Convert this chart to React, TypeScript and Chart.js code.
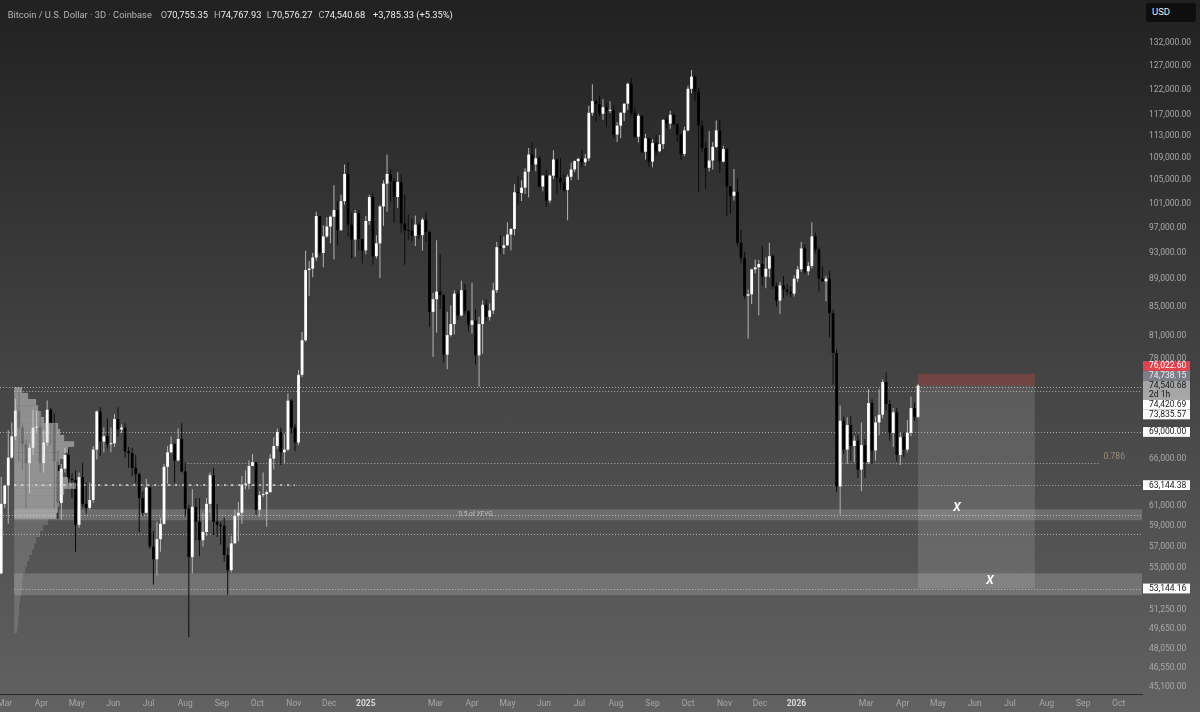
import React, { useEffect, useRef } from 'react';
import { Chart, registerables } from 'chart.js';

Chart.register(...registerables);

const FONT = 'Roboto, "Liberation Sans", Arial, sans-serif';

// ---- 3-day candles, Coinbase BTC/USD, prices in thousands of USD ----
const FIRST_BAR_DATE = '2024-02-27';
const BAR_DAYS = 3;

const openK = [
  54.5,61.2,63.1,66.1,68.5,71.5,69.5,67.6,65.5,67.2,
  69.5,69.6,65.5,67.8,71.6,70.0,65.7,61.3,64.9,66.4,
  63.8,63.7,59.1,64.0,61.2,60.8,61.6,67.0,71.4,67.9,
  68.5,67.6,67.7,70.5,69.3,69.5,66.8,66.6,65.0,64.3,
  61.8,60.3,62.9,57.0,55.8,57.7,59.2,65.1,66.7,67.6,
  65.8,68.2,64.6,60.7,56.0,60.9,59.4,57.6,58.4,61.2,
  64.2,59.4,59.1,59.0,56.2,54.8,57.3,60.0,60.3,63.2,
  63.3,65.2,65.6,60.6,62.1,62.2,62.4,66.0,67.4,69.0,
  66.7,67.0,72.7,69.5,67.8,75.9,80.4,90.4,90.6,92.3,
  98.9,93.0,95.6,97.2,98.8,99.9,96.6,101.4,106.1,97.5,
  95.1,99.4,95.2,93.4,98.1,102.1,92.5,94.5,100.5,104.4,
  106.1,104.8,102.1,104.7,97.7,96.6,96.5,95.7,97.5,95.8,
  98.3,96.3,84.3,86.1,87.2,86.7,78.5,81.1,82.6,86.9,
  83.8,87.4,84.4,82.5,83.1,78.4,82.6,85.3,83.6,84.5,
  87.4,93.9,93.8,94.2,95.9,96.8,102.9,102.8,103.7,106.5,
  109.6,107.8,108.9,103.9,105.8,101.5,105.8,108.7,105.4,104.6,
  103.3,105.6,106.9,108.4,108.8,108.2,108.9,117.5,119.8,119.2,
  117.3,118.6,117.9,118.0,113.3,115.0,117.5,119.3,123.3,117.5,
  112.9,116.9,110.1,112.6,108.3,111.7,110.2,111.5,116.1,115.4,
  117.1,115.3,113.3,109.7,114.1,122.3,124.8,121.7,115.0,110.8,
  107.2,108.5,111.0,114.1,108.3,110.6,103.9,102.3,103.0,94.6,
  92.2,86.6,86.8,90.5,90.8,91.3,89.4,90.6,92.5,88.0,
  85.9,88.1,87.5,87.2,86.9,89.1,90.5,93.7,90.2,91.0,
  95.6,93.5,89.1,88.7,89.1,84.1,78.7,63.0,70.3,67.0,
  69.8,67.4,68.0,64.8,67.5,65.6,72.4,66.9,70.1,71.0,
  75.0,72.3,68.9,71.3,66.4,68.4,67.0,68.9,71.8,70.755,
];
const highK = [
  64.0,63.2,69.2,70.1,72.9,73.8,70.0,68.1,67.6,71.6,
  71.5,71.4,69.2,72.7,71.8,71.2,66.9,65.4,67.2,67.1,
  64.4,64.7,64.5,65.5,63.4,63.4,67.4,71.5,71.9,69.5,
  70.6,69.5,71.1,71.9,69.9,70.0,67.3,67.2,66.4,64.5,
  62.5,63.8,63.0,58.5,59.4,59.8,65.4,67.4,68.5,67.8,
  69.4,70.0,65.6,61.1,62.7,61.8,61.8,60.3,61.8,64.5,
  65.0,61.2,59.4,59.8,56.9,58.0,60.6,61.4,64.1,64.7,
  65.8,66.5,65.6,62.5,64.5,62.6,66.5,68.4,69.4,69.5,
  68.8,73.6,72.9,69.9,76.5,81.5,93.4,91.8,93.0,99.6,
  98.9,97.4,98.7,99.0,104.1,101.4,102.5,107.8,108.3,99.5,
  99.9,99.9,95.2,98.9,102.5,102.7,95.8,100.7,105.0,109.6,
  107.0,105.4,106.4,106.0,102.5,99.2,98.5,99.0,97.9,98.6,
  99.5,96.5,87.0,95.0,92.8,86.9,84.3,85.2,87.4,87.4,
  88.8,88.3,84.5,88.5,84.7,83.6,85.9,86.1,85.5,88.5,
  94.7,95.8,95.6,97.9,96.9,104.3,105.8,105.0,107.1,110.8,
  111.9,110.7,109.3,105.9,106.8,106.0,110.4,108.8,108.9,106.0,
  106.0,108.1,108.5,109.0,110.5,109.7,118.9,123.2,120.1,120.9,
  120.2,119.5,119.8,118.9,115.7,117.6,119.3,123.6,124.5,118.6,
  117.3,117.0,113.4,112.6,112.4,113.3,113.2,116.3,116.8,117.9,
  117.3,115.4,113.6,114.8,122.9,126.2,125.1,122.5,116.0,111.9,
  114.0,111.9,116.0,116.1,111.2,110.7,104.0,107.0,105.3,96.6,
  93.2,87.5,90.6,92.0,91.9,94.1,92.3,94.6,92.8,88.5,
  88.6,89.5,88.3,88.0,89.6,91.0,94.7,94.3,91.6,97.9,
  96.2,93.9,91.0,89.5,90.3,84.6,79.2,72.1,70.8,70.7,
  70.8,68.5,68.6,70.1,68.2,74.1,72.9,70.8,74.1,75.3,
  76.2,72.8,71.8,71.8,68.9,69.0,70.4,73.2,72.5,74.768,
];
const lowK = [
  54.4,60.8,59.2,66.0,68.1,65.6,64.8,60.8,62.3,66.4,
  68.9,64.5,64.5,67.4,67.5,60.8,59.7,59.6,64.5,62.8,
  61.8,56.5,58.8,60.9,60.2,60.6,61.3,65.9,66.3,66.7,
  67.1,66.7,67.3,68.5,68.9,66.1,65.0,64.1,63.4,58.4,
  60.0,60.3,56.8,53.5,54.3,56.5,59.1,63.3,66.6,63.4,
  65.7,64.5,59.9,49.0,54.5,57.6,56.1,57.0,58.0,60.3,
  58.1,57.9,57.2,55.6,52.6,54.6,57.3,57.5,59.2,62.7,
  62.7,65.2,60.1,59.9,61.9,58.9,62.4,64.8,67.1,65.3,
  65.5,66.8,68.8,66.8,67.5,75.6,80.2,86.6,89.3,91.8,
  92.6,90.8,95.4,94.5,92.0,94.2,96.5,100.8,95.6,92.2,
  92.4,93.4,91.4,92.8,97.5,91.2,92.2,89.2,97.3,99.6,
  101.3,97.8,100.3,96.2,91.2,95.0,94.8,94.1,95.2,93.4,
  94.8,82.2,78.2,81.4,84.7,77.5,76.6,80.9,81.2,83.2,
  83.7,83.9,81.6,81.3,77.2,74.4,78.6,83.0,83.1,84.0,
  87.0,92.9,92.8,94.1,93.4,95.8,100.8,101.4,102.6,102.0,
  106.8,106.6,103.7,103.1,100.4,101.1,105.2,102.7,103.4,102.9,
  98.2,105.0,106.4,105.1,107.3,107.5,108.4,116.9,115.7,116.8,
  116.1,114.7,117.5,112.7,111.9,112.6,115.9,118.1,116.8,112.7,
  111.8,109.8,108.7,107.4,107.3,109.4,110.0,110.6,114.5,114.4,
  115.1,111.9,108.6,109.3,113.9,121.4,119.9,103.0,110.0,103.5,
  106.6,106.9,110.8,106.3,108.2,98.9,99.3,101.5,94.0,91.4,
  86.1,80.6,85.4,89.9,83.8,88.1,87.7,89.3,87.6,85.1,
  84.0,86.3,86.6,86.4,86.5,88.6,90.1,89.8,89.6,90.6,
  92.9,87.2,88.6,85.8,80.8,74.7,62.4,60.1,66.5,65.4,
  65.8,65.6,63.9,62.5,63.9,65.4,65.4,65.8,68.6,70.6,
  71.5,68.0,67.3,65.7,65.3,66.2,66.7,68.5,70.3,70.576,
];
const closeK = [
  61.2,63.1,66.1,68.5,71.5,69.5,67.6,65.5,67.2,69.5,
  69.6,65.5,67.8,71.6,70.0,65.7,61.3,64.9,66.4,63.8,
  63.7,59.1,64.0,61.2,60.8,61.6,67.0,71.4,67.9,68.5,
  67.6,67.7,70.5,69.3,69.5,66.8,66.6,65.0,64.3,61.8,
  60.3,62.9,57.0,55.8,57.7,59.2,65.1,66.7,67.6,65.8,
  68.2,64.6,60.7,56.0,60.9,59.4,57.6,58.4,61.2,64.2,
  59.4,59.1,59.0,56.2,54.8,57.3,60.0,60.3,63.2,63.3,
  65.2,65.6,60.6,62.1,62.2,62.4,66.0,67.4,69.0,66.7,
  67.0,72.7,69.5,67.8,75.9,80.4,90.4,90.6,92.3,98.9,
  93.0,95.6,97.2,98.8,99.9,96.6,101.4,106.1,97.5,95.1,
  99.4,95.2,93.4,98.1,102.1,92.5,94.5,100.5,104.4,106.1,
  104.8,102.1,104.7,97.7,96.6,96.5,95.7,97.5,95.8,98.3,
  96.3,84.3,86.1,87.2,86.7,78.5,81.1,82.6,86.9,83.8,
  87.4,84.4,82.5,83.1,78.4,82.6,85.3,83.6,84.5,87.4,
  93.9,93.8,94.2,95.9,96.8,102.9,102.8,103.7,106.5,109.6,
  107.8,108.9,103.9,105.8,101.5,105.8,108.7,105.4,104.6,103.3,
  105.6,106.9,108.4,108.8,108.2,108.9,117.5,119.8,119.2,117.3,
  118.6,117.9,118.0,113.3,115.0,117.5,119.3,123.3,117.5,112.9,
  116.9,110.1,112.6,108.3,111.7,110.2,111.5,116.1,115.4,117.1,
  115.3,113.3,109.7,114.1,122.3,124.8,121.7,115.0,110.8,107.2,
  108.5,111.0,114.1,108.3,110.6,103.9,102.3,103.0,94.6,92.2,
  86.6,86.8,90.5,90.8,91.3,89.4,90.6,92.5,88.0,85.9,
  88.1,87.5,87.2,86.9,89.1,90.5,93.7,90.2,91.0,95.6,
  93.5,89.1,88.7,89.1,84.1,78.7,63.0,70.3,67.0,69.8,
  67.4,68.0,64.8,67.5,65.6,72.4,66.9,70.1,71.0,75.0,
  72.3,68.9,71.3,66.4,68.4,67.0,68.9,71.8,70.755,74.541,
];

// ---- axes ----
const yTicksK = [132,127,122,117,113,109,105,101,97,93,89,85,81,78,66,61,59,57,55,51.25,49.65,48.05,46.55,45.1];
const monthTickDates = [
  '2024-03-01','2024-04-01','2024-05-01','2024-06-01','2024-07-01','2024-08-01','2024-09-01','2024-10-01','2024-11-01','2024-12-01',
  '2025-01-01','2025-03-01','2025-04-01','2025-05-01','2025-06-01','2025-07-01','2025-08-01','2025-09-01','2025-10-01','2025-11-01','2025-12-01',
  '2026-01-01','2026-03-01','2026-04-01','2026-05-01','2026-06-01','2026-07-01','2026-08-01','2026-09-01','2026-10-01',
];
const monthTickLabels = [
  'Mar','Apr','May','Jun','Jul','Aug','Sep','Oct','Nov','Dec',
  '2025','Mar','Apr','May','Jun','Jul','Aug','Sep','Oct','Nov','Dec',
  '2026','Mar','Apr','May','Jun','Jul','Aug','Sep','Oct',
];
const X_MIN_DAY = -310.0;
const X_MAX_DAY = 657.8;
const Y_MIN_K = 44.57;
const Y_MAX_K = 141.81;

// ---- drawings ----
const lineLevelsK = [74.42069, 73.83557, 69.0, 65.52, 63.14438, 60.1, 58.2, 53.14416];
const lineStartDates: (string | null)[] = [null, '2024-03-09', null, '2024-08-01', '2024-03-09', null, null, '2024-03-09'];
const lineEndDates: (string | null)[] = [null, null, null, '2026-09-14', null, null, null, null];

const bandTopK = [60.65, 54.5];
const bandBottomK = [59.55, 52.55];
const bandStartDates = ['2024-03-09', '2024-03-09'];

const pocPriceK = 63.14438;
const pocStartDate = '2024-03-09';
const pocEndDate = '2024-11-02';

const fibLabelText = '0.786';
const bandLabelText = '0.5 of YFVG';
const bandLabelDate = '2025-04-04';
const bandLabelPriceK = 60.1;

const tradeEntryK = 74.54068;
const tradeStopK = 76.0226;
const tradeTargetK = 53.14416;
const tradeFromDate = '2026-04-14';
const tradeToDate = '2026-07-22';

const markerDates = ['2026-05-17', '2026-06-14'];
const markerPricesK = [60.75, 53.8];
const markerText = 'X';

const axisLabelPricesK = [76.0226, 74.73815, 74.54068, 74.42069, 73.83557, 69.0, 63.14438, 53.14416];
const axisLabelKinds = ['stop', 'prev', 'last', 'line', 'line', 'line', 'line', 'line'];
const lastBarCountdown = '2d 1h';

// ---- fixed range volume profile (anchored at pocStartDate) ----
const profilePricesK = [74.0,73.3,72.5,71.8,71.1,70.4,69.7,69.0,68.3,67.6,67.0,66.3,65.6,65.0,64.3,63.7,63.1,62.4,61.8,61.2,60.6,60.0,59.4,58.8,58.2,57.6,57.0,56.5,55.9,55.4,54.8,54.3,53.7,53.2,52.7,52.1,51.6,51.1,50.6,50.1,49.6];
const profileVolumes = [8,14,22,24,27,30,44,46,50,60,54,50,46,44,48,54,62,50,46,45,44,42,34,29,26,22,20,18,15,13,11,9,8,8,7,6,5,5,4,4,3];
const valueAreaLowK = 59.6;
const PROFILE_DAYS_PER_VOLUME = 0.847; // horizontal extent of one volume unit, in days on the time axis

// ---- header ----
const symbolTitle = 'Bitcoin / U.S. Dollar · 3D · Coinbase';
const ohlcLetters = ['O', 'H', 'L', 'C'];
const ohlcValues = ['70,755.35', '74,767.93', '70,576.27', '74,540.68'];
const changeText = '+3,785.33 (+5.35%)';
const currencyText = 'USD';

const dayNum = (iso: string) => {
  const [y, m, d] = iso.split('-').map(Number);
  return (Date.UTC(y, m - 1, d) - Date.UTC(2025, 0, 1)) / 86400000;
};
const fmtK = (v: number) =>
  (Number(v) * 1000).toLocaleString('en-US', { minimumFractionDigits: 2, maximumFractionDigits: 2 });

function hline(ctx: CanvasRenderingContext2D, x0: number, x1: number, y: number, dash: number[], w: number, color: string) {
  ctx.save();
  ctx.beginPath();
  ctx.setLineDash(dash);
  ctx.lineWidth = w;
  ctx.strokeStyle = color;
  const yy = Math.round(y) + (w % 2 ? 0.5 : 0);
  ctx.moveTo(x0, yy);
  ctx.lineTo(x1, yy);
  ctx.stroke();
  ctx.restore();
}

const overlayPlugin = {
  id: 'overlays',
  beforeDatasetsDraw(chart: any) {
    const { ctx, chartArea: a, scales } = chart;
    const x = scales.x, y = scales.y;
    ctx.save();
    ctx.beginPath();
    ctx.rect(a.left, a.top, a.right - a.left, a.bottom - a.top);
    ctx.clip();
    bandTopK.forEach((t, i) => {
      const x0 = x.getPixelForValue(dayNum(bandStartDates[i]));
      const y0 = y.getPixelForValue(t);
      const y1 = y.getPixelForValue(bandBottomK[i]);
      ctx.fillStyle = 'rgba(255,255,255,0.17)';
      ctx.fillRect(x0, y0, a.right - x0, y1 - y0);
    });
    const bx0 = x.getPixelForValue(dayNum(tradeFromDate));
    const bx1 = x.getPixelForValue(dayNum(tradeToDate));
    const yE = y.getPixelForValue(tradeEntryK);
    const yS = y.getPixelForValue(tradeStopK);
    const yT = y.getPixelForValue(tradeTargetK);
    ctx.fillStyle = 'rgba(200,70,70,0.35)';
    ctx.fillRect(bx0, yS, bx1 - bx0, yE - yS);
    ctx.fillStyle = 'rgba(255,255,255,0.12)';
    ctx.fillRect(bx0, yE, bx1 - bx0, yT - yE);
    lineLevelsK.forEach((p, i) => {
      const s = lineStartDates[i];
      const e = lineEndDates[i];
      const x0 = s ? x.getPixelForValue(dayNum(s)) : a.left;
      const x1 = e ? x.getPixelForValue(dayNum(e)) : a.right;
      hline(ctx, x0, x1, y.getPixelForValue(p), [1, 2], 1, 'rgba(235,235,235,0.6)');
    });
    hline(
      ctx,
      x.getPixelForValue(dayNum(pocStartDate)),
      x.getPixelForValue(dayNum(pocEndDate)),
      y.getPixelForValue(pocPriceK),
      [2, 5], 2, 'rgba(215,215,215,0.8)'
    );
    ctx.restore();
  },
  afterDatasetsDraw(chart: any) {
    const { ctx, chartArea: a, scales } = chart;
    const x = scales.x, y = scales.y;
    ctx.save();
    ctx.beginPath();
    ctx.rect(a.left, a.top, a.right - a.left, a.bottom - a.top);
    ctx.clip();
    // volume profile rows
    const ys = profilePricesK.map((p) => y.getPixelForValue(p));
    const n = ys.length;
    const d0 = dayNum(pocStartDate);
    const base = x.getPixelForValue(d0);
    for (let i = 0; i < n; i++) {
      const top = i === 0 ? ys[0] - (ys[1] - ys[0]) / 2 : (ys[i - 1] + ys[i]) / 2;
      const bot = i === n - 1 ? ys[i] + (ys[i] - ys[i - 1]) / 2 : (ys[i] + ys[i + 1]) / 2;
      const w = x.getPixelForValue(d0 + profileVolumes[i] * PROFILE_DAYS_PER_VOLUME) - base;
      ctx.fillStyle = profilePricesK[i] >= valueAreaLowK ? 'rgba(215,215,215,0.5)' : 'rgba(190,190,190,0.24)';
      ctx.fillRect(base, top, w, bot - top);
    }
    // fib label
    const fibIdx = 3;
    const fx = x.getPixelForValue(dayNum(lineEndDates[fibIdx] as string)) + 5;
    const fy = y.getPixelForValue(lineLevelsK[fibIdx]);
    ctx.font = `8.5px ${FONT}`;
    ctx.fillStyle = '#978f73';
    ctx.textAlign = 'left';
    ctx.textBaseline = 'bottom';
    ctx.fillText(fibLabelText, fx, fy - 1.5);
    // zone label
    ctx.font = `6.5px ${FONT}`;
    ctx.fillStyle = '#bdbdbd';
    ctx.textAlign = 'center';
    ctx.textBaseline = 'middle';
    ctx.fillText(bandLabelText, x.getPixelForValue(dayNum(bandLabelDate)), y.getPixelForValue(bandLabelPriceK));
    // X markers
    ctx.font = `italic bold 12px ${FONT}`;
    ctx.fillStyle = '#ffffff';
    markerDates.forEach((d, i) => {
      ctx.fillText(markerText, x.getPixelForValue(dayNum(d)), y.getPixelForValue(markerPricesK[i]));
    });
    ctx.restore();
  },
  afterDraw(chart: any) {
    const { ctx, chartArea: a, scales } = chart;
    const y = scales.y;
    const H = 9.8;
    const items = axisLabelPricesK.map((p, i) => ({
      p,
      kind: axisLabelKinds[i],
      y: y.getPixelForValue(p),
      h: axisLabelKinds[i] === 'last' ? 19 : H,
      top: 0,
    }));
    const anchor = items.find((it) => it.kind === 'last')!;
    anchor.top = anchor.y - H / 2;
    let limit = anchor.top;
    items
      .filter((it) => it.p > anchor.p)
      .sort((m, n) => m.p - n.p)
      .forEach((it) => {
        it.top = Math.min(it.y - H / 2, limit - it.h);
        limit = it.top;
      });
    limit = anchor.top + anchor.h;
    items
      .filter((it) => it.p < anchor.p)
      .sort((m, n) => n.p - m.p)
      .forEach((it) => {
        it.top = Math.max(it.y - H / 2, limit);
        limit = it.top + it.h;
      });
    const colors: Record<string, [string, string]> = {
      stop: ['#e2434f', '#ffffff'],
      prev: ['#7c7f88', '#ececec'],
      last: ['#a6a6a6', '#161616'],
      line: ['#ffffff', '#1b1b1b'],
    };
    ctx.save();
    ctx.font = `8.5px ${FONT}`;
    ctx.textAlign = 'left';
    ctx.textBaseline = 'middle';
    const bx = a.right + 1;
    items.forEach((it) => {
      const [bg, fg] = colors[it.kind];
      ctx.fillStyle = bg;
      ctx.fillRect(bx, it.top, 47, it.h);
      ctx.fillStyle = fg;
      ctx.fillText(fmtK(it.p), bx + 6, it.top + H / 2 + 0.3);
      if (it.kind === 'last') ctx.fillText(lastBarCountdown, bx + 6, it.top + H + H / 2 - 0.6);
    });
    ctx.restore();
  },
};

export default function App() {
  const ref = useRef<HTMLCanvasElement>(null);

  useEffect(() => {
    const firstDay = dayNum(FIRST_BAR_DATE);
    const barDay = (i: number) => firstDay + BAR_DAYS * i;
    const isUp = (i: number) => closeK[i] >= openK[i];

    const chart = new Chart(ref.current as HTMLCanvasElement, {
      type: 'bar',
      data: {
        datasets: [
          {
            label: 'body',
            data: openK.map((o, i) => ({ x: barDay(i), y: [o, closeK[i]] })) as any,
            backgroundColor: (c: any) => (isUp(c.dataIndex) ? '#ffffff' : '#000000'),
            borderWidth: 0,
            barThickness: 2.8,
            grouped: false,
            minBarLength: 1,
            inflateAmount: 0,
            order: 0,
            xAxisID: 'x',
            yAxisID: 'y',
          } as any,
          {
            label: 'wick',
            data: lowK.map((l, i) => ({ x: barDay(i), y: [l, highK[i]] })) as any,
            backgroundColor: (c: any) => (isUp(c.dataIndex) ? '#b4b4b4' : '#0c0c0c'),
            borderWidth: 0,
            barThickness: 1,
            grouped: false,
            inflateAmount: 0,
            order: 1,
            xAxisID: 'x',
            yAxisID: 'y',
          } as any,
        ],
      },
      options: {
        animation: false,
        responsive: false,
        maintainAspectRatio: false,
        devicePixelRatio: 1,
        events: [],
        layout: { padding: 0, autoPadding: false } as any,
        plugins: { legend: { display: false }, tooltip: { enabled: false }, title: { display: false } },
        scales: {
          x: {
            type: 'linear',
            position: 'bottom',
            min: X_MIN_DAY,
            max: X_MAX_DAY,
            offset: false,
            grid: { display: false, drawTicks: false },
            border: { display: true, color: '#2c2c2c', width: 1 },
            ticks: {
              autoSkip: false,
              maxRotation: 0,
              minRotation: 0,
              padding: 5,
              color: (c: any) => (/^\d{4}$/.test(c.tick?.label ?? '') ? '#dcdcdc' : '#a6a6a6'),
              font: (c: any) => ({
                family: FONT,
                size: 8.5,
                weight: /^\d{4}$/.test(c.tick?.label ?? '') ? 'bold' : 'normal',
              }),
              callback: (_v: any, idx: number) => monthTickLabels[idx],
            },
            afterBuildTicks: (s: any) => {
              s.ticks = monthTickDates.map((d) => ({ value: dayNum(d) }));
            },
            afterFit: (s: any) => {
              s.height = 18;
              s.paddingLeft = 0;
              s.paddingRight = 0;
            },
          } as any,
          y: {
            type: 'logarithmic',
            position: 'right',
            min: Y_MIN_K,
            max: Y_MAX_K,
            grid: { display: false, drawTicks: false },
            border: { display: false },
            ticks: {
              autoSkip: false,
              padding: 7,
              color: '#a9a9a9',
              font: { family: FONT, size: 8.5 },
              callback: (v: any) => fmtK(Number(v)),
            },
            afterBuildTicks: (s: any) => {
              s.ticks = yTicksK.map((v) => ({ value: v }));
            },
            afterFit: (s: any) => {
              s.width = 58;
              s.paddingTop = 0;
              s.paddingBottom = 0;
            },
          } as any,
        },
      },
      plugins: [overlayPlugin],
    });
    return () => chart.destroy();
  }, []);

  const headerBase: React.CSSProperties = {
    position: 'absolute',
    top: 8.5,
    lineHeight: '12px',
    fontSize: 9.3,
    whiteSpace: 'nowrap',
    fontFamily: FONT,
  };
  const groupLefts = [160.7, 214, 266.7, 318.4];

  return (
    <div
      style={{
        position: 'fixed',
        left: 0,
        top: 0,
        width: 1200,
        height: 712,
        overflow: 'hidden',
        background: 'linear-gradient(180deg, #212121 0%, #424242 50%, #626262 100%)',
        fontFamily: FONT,
      }}
    >
      <canvas ref={ref} width={1200} height={712} style={{ position: 'absolute', left: 0, top: 0, width: 1200, height: 712 }} />
      <div style={{ ...headerBase, left: 7.7, color: '#b4b4b4' }}>{symbolTitle}</div>
      {ohlcLetters.map((l, i) => (
        <div key={l} style={{ ...headerBase, left: groupLefts[i] }}>
          <span style={{ color: '#b4b4b4' }}>{l}</span>
          <span style={{ color: '#ececec' }}>{ohlcValues[i]}</span>
        </div>
      ))}
      <div style={{ ...headerBase, left: 373, color: '#ececec' }}>{changeText}</div>
      <div
        style={{
          position: 'absolute',
          left: 1146,
          top: 3.3,
          width: 50,
          height: 18.5,
          borderRadius: 3,
          background: '#0e0e0e',
          color: '#ececec',
          fontSize: 9.5,
          lineHeight: '18.5px',
          paddingLeft: 6,
          boxSizing: 'border-box',
          fontFamily: FONT,
        }}
      >
        {currencyText}
      </div>
    </div>
  );
}
